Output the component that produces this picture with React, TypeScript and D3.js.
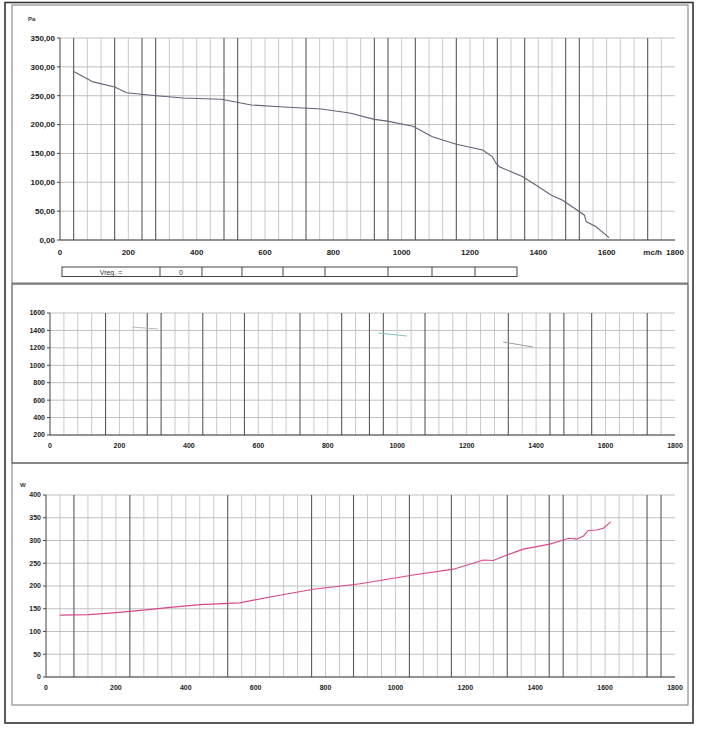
import React from "react";
import * as d3 from "d3";

// ---------- data ----------
const xTicks = [0, 200, 400, 600, 800, 1000, 1200, 1400, 1600, 1800];

// Pressure curve (Pa vs mc/h)
const pressureFlow = [40, 97, 160, 195, 282, 360, 472, 560, 643, 765, 848, 920, 958, 1033, 1090, 1160, 1237, 1266, 1276, 1286, 1353, 1396, 1437, 1471, 1513, 1535, 1540, 1569, 1607];
const pressureValues = [292, 274, 265, 255, 250, 246, 244, 234, 231, 227, 220, 209, 206, 197, 179, 166, 156, 144, 133, 127, 110, 94, 78, 69, 52, 43, 32, 23, 4];
const pressureTicks = [0, 50, 100, 150, 200, 250, 300, 350];

// Middle chart (rpm) faint segments
const rpmSegFlow = [[236, 311], [945, 1028], [1305, 1391]];
const rpmSegValues = [[1439, 1416], [1370, 1336], [1267, 1210]];
const rpmSegColors = ["#b8b8b8", "#7cc8c0", "#9a9a9a"];
const rpmTicks = [200, 400, 600, 800, 1000, 1200, 1400, 1600];

// Power curve (W vs mc/h)
const powerFlow = [40, 121, 193, 279, 355, 441, 555, 641, 765, 899, 994, 1051, 1166, 1252, 1280, 1319, 1366, 1442, 1480, 1495, 1519, 1538, 1552, 1576, 1595, 1616];
const powerValues = [136, 137, 141, 147, 153, 159, 163, 176, 193, 205, 217, 224, 237, 257, 256, 268, 281, 292, 301, 305, 303, 310, 322, 323, 327, 341];
const powerTicks = [0, 50, 100, 150, 200, 250, 300, 350, 400];

// darker (scanned) vertical grid lines
const darkTop = [40, 160, 240, 280, 480, 520, 720, 920, 960, 1040, 1160, 1280, 1360, 1480, 1520, 1720];
const darkMid = [160, 280, 320, 440, 560, 720, 840, 920, 960, 1080, 1320, 1440, 1480, 1560, 1720];
const darkBot = [80, 240, 520, 760, 880, 1040, 1160, 1320, 1440, 1480, 1720, 1760];

// table row
const tableCells = ["Vreg. =", "0", "", "", "", "", "", "", ""];
const tableEdges = [62, 160, 202, 242, 283, 325, 388, 432, 475, 517];

const FONT = "'Liberation Sans', Arial, sans-serif";
const gridMinor = d3.range(40, 1800, 40);

type ChartProps = {
  box: [number, number, number, number];
  yDomain: [number, number];
  yTicks: number[];
  yFmt: (v: number) => string;
  dark: number[];
  fontSize: number;
  labelDy: number;
  children?: (x: d3.ScaleLinear<number, number>, y: d3.ScaleLinear<number, number>) => React.ReactNode;
  xUnit?: string;
};

function Chart({ box, yDomain, yTicks, yFmt, dark, fontSize, labelDy, children, xUnit }: ChartProps) {
  const [x0, x1, y0, y1] = box;
  const x = d3.scaleLinear().domain([0, 1800]).range([x0, x1]);
  const y = d3.scaleLinear().domain(yDomain).range([y1, y0]);
  const darkSet = new Set(dark);
  return (
    <g>
      {yTicks.map((t) => (
        <line key={"h" + t} x1={x0} x2={x1} y1={y(t)} y2={y(t)} stroke="#b0b0b0" strokeWidth={0.8} />
      ))}
      {gridMinor.map((g) => (
        <line key={"v" + g} x1={x(g)} x2={x(g)} y1={y0} y2={y1}
          stroke={darkSet.has(g) ? "#5a5a5a" : "#bcbcbc"} strokeWidth={darkSet.has(g) ? 1.1 : 0.8} />
      ))}
      <line x1={x0} x2={x0} y1={y0} y2={y1} stroke="#444" strokeWidth={1} />
      <line x1={x0} x2={x1} y1={y1} y2={y1} stroke="#444" strokeWidth={1} />
      {yTicks.map((t) => (
        <g key={"yt" + t}>
          <line x1={x0 - 3} x2={x0} y1={y(t)} y2={y(t)} stroke="#444" strokeWidth={1} />
          <text x={x0 - 5} y={y(t)} dy="0.35em" textAnchor="end" fontSize={fontSize} fontWeight="bold" fill="#222" fontFamily={FONT}>
            {yFmt(t)}
          </text>
        </g>
      ))}
      {xTicks.map((t) => (
        <text key={"xt" + t} x={x(t)} y={y1 + labelDy} textAnchor="middle" fontSize={fontSize} fontWeight="bold" fill="#222" fontFamily={FONT}>
          {t}
        </text>
      ))}
      {xUnit && (
        <text x={x(1800) - 13} y={y1 + labelDy} textAnchor="end" fontSize={fontSize} fontWeight="bold" fill="#222" fontFamily={FONT}>
          {xUnit}
        </text>
      )}
      {children && children(x, y)}
    </g>
  );
}

export default function App() {
  const commaFmt = (v: number) => d3.format(".2f")(v).replace(".", ",");
  const intFmt = (v: number) => String(v);

  return (
    <svg width={701} height={740} style={{ position: "absolute", left: 0, top: 0, background: "#fff" }}>
      <rect x={0} y={0} width={701} height={740} fill="#fff" />
      {/* outer frame and panels */}
      <rect x={5} y={2.5} width={688} height={720.5} fill="none" stroke="#333" strokeWidth={1.6} />
      <rect x={12} y={5} width={676} height={278} fill="none" stroke="#777" strokeWidth={1} />
      <rect x={12} y={284} width={676} height={179} fill="none" stroke="#555" strokeWidth={1.2} />
      <rect x={12} y={463} width={676} height={242} fill="none" stroke="#777" strokeWidth={1} />

      {/* top chart: pressure */}
      <text x={28} y={21} fontSize={6} fontWeight="bold" fill="#333" fontFamily={FONT}>Pa</text>
      <Chart box={[60, 675, 38, 240]} yDomain={[0, 350]} yTicks={pressureTicks} yFmt={commaFmt}
        dark={darkTop} fontSize={8} labelDy={15} xUnit="mc/h">
        {(x, y) => {
          const line = d3.line<number>().x((d, i) => x(pressureFlow[i])).y((d) => y(d));
          return <path d={line(pressureValues) || ""} fill="none" stroke="#626278" strokeWidth={1.1} />;
        }}
      </Chart>

      {/* table row */}
      <rect x={tableEdges[0]} y={267} width={tableEdges[tableEdges.length - 1] - tableEdges[0]} height={9.5}
        fill="#fff" stroke="#444" strokeWidth={1} />
      {tableEdges.slice(1, -1).map((e) => (
        <line key={"te" + e} x1={e} x2={e} y1={267} y2={276.5} stroke="#444" strokeWidth={1} />
      ))}
      {tableCells.map((c, i) => (
        <text key={"tc" + i} x={(tableEdges[i] + tableEdges[i + 1]) / 2} y={274.5} textAnchor="middle"
          fontSize={7} fill="#333" fontFamily={FONT}>{c}</text>
      ))}

      {/* middle chart */}
      <Chart box={[50, 675, 313, 435]} yDomain={[200, 1600]} yTicks={rpmTicks} yFmt={intFmt}
        dark={darkMid} fontSize={7} labelDy={13}>
        {(x, y) =>
          rpmSegFlow.map((seg, i) => {
            const line = d3.line<number>().x((d, j) => x(seg[j])).y((d) => y(d));
            return <path key={"seg" + i} d={line(rpmSegValues[i]) || ""} fill="none" stroke={rpmSegColors[i]} strokeWidth={1} />;
          })
        }
      </Chart>

      {/* bottom chart: power */}
      <text x={20} y={487} fontSize={6} fontWeight="bold" fill="#333" fontFamily={FONT}>W</text>
      <Chart box={[46, 675, 495, 677]} yDomain={[0, 400]} yTicks={powerTicks} yFmt={intFmt}
        dark={darkBot} fontSize={7} labelDy={13}>
        {(x, y) => {
          const line = d3.line<number>().x((d, i) => x(powerFlow[i])).y((d) => y(d));
          return <path d={line(powerValues) || ""} fill="none" stroke="#d8468e" strokeWidth={1.1} />;
        }}
      </Chart>
    </svg>
  );
}
